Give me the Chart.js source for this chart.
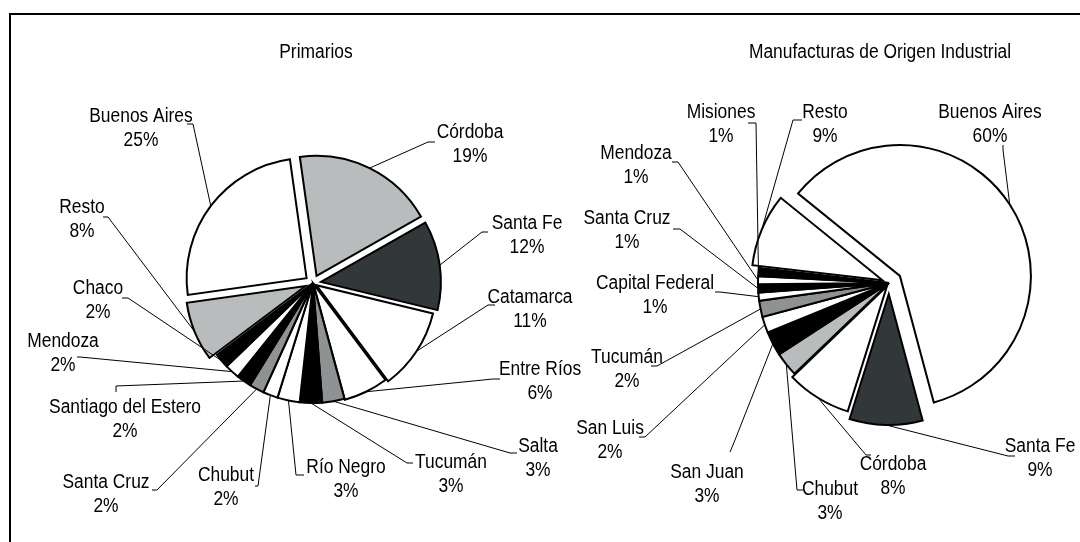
<!DOCTYPE html>
<html lang="es">
<head>
<meta charset="UTF-8">
<title>Exportaciones por provincia</title>
<script src="https://cdn.jsdelivr.net/npm/chart.js@4"></script>
<style>
  html, body { margin: 0; padding: 0; background: #fff; overflow: hidden; }
  body { width: 1080px; height: 542px; position: relative; }
  .frame { position: absolute; left: 9px; top: 13px; width: 1100px; height: 600px; border: 2px solid #000; }
  canvas { position: absolute; top: 0; }
  #primarios { left: 0; }
  #moi { left: 540px; }
</style>
</head>
<body>
<div class="frame"></div>
<canvas id="primarios" width="620" height="542"></canvas>
<canvas id="moi" width="540" height="542"></canvas>
<script>
// Primarios, clockwise from the top
const primariosLabels = ["Córdoba", "Santa Fe", "Catamarca", "Entre Ríos", "Salta", "Tucumán", "Río Negro",
  "Chubut", "Santa Cruz", "Santiago del Estero", "Mendoza", "Chaco", "Resto", "Buenos Aires"];
const primariosValues = [19, 12, 11, 6, 3, 3, 3, 2, 2, 2, 2, 2, 8, 25];

// Manufacturas de Origen Industrial, clockwise from Buenos Aires
const moiLabels = ["Buenos Aires", "Santa Fe", "Córdoba", "Chubut", "San Juan", "San Luis", "Tucumán",
  "Capital Federal", "Santa Cruz", "Mendoza", "Misiones", "Resto"];
const moiValues = [60, 9, 8, 3, 3, 2, 2, 1, 1, 1, 1, 9];

const LIGHT = "#b9bcbd", DARK = "#32373a", MID = "#8e9293", BLK = "#000000", WHT = "#ffffff";
const primariosColors = [LIGHT, DARK, WHT, WHT, MID, BLK, WHT, WHT, MID, BLK, WHT, BLK, LIGHT, WHT];
const moiColors = [WHT, DARK, WHT, LIGHT, BLK, WHT, MID, WHT, BLK, WHT, BLK, WHT];

const primariosExplode = [8, 8, 4, 1, 0, 0, 0, 0, 0, 0, 0, 0, 8, 8];
const moiExplode = [13, 11, 4, 0, 0, 0, 0, 0, 0, 0, 0, 7];

// label layout (page coords): text centre, elbow, anchor
const primariosCallouts = [
  { x: 470, y: 132, ex: 428, ey: 142, ax: 435, ay: 142 },
  { x: 527, y: 223, ex: 482, ey: 232, ax: 488, ay: 232 },
  { x: 530, y: 297, ex: 488, ey: 305, ax: 495, ay: 305 },
  { x: 540, y: 369, ex: 493, ey: 379, ax: 500, ay: 379 },
  { x: 538, y: 446, ex: 510, ey: 453, ax: 517, ay: 453 },
  { x: 451, y: 462, ex: 407, ey: 463, ax: 413, ay: 463 },
  { x: 346, y: 467, ex: 296, ey: 475, ax: 304, ay: 475 },
  { x: 226, y: 475, ex: 258, ey: 486, ax: 255, ay: 486 },
  { x: 106, y: 482, ex: 157, ey: 490, ax: 152, ay: 490 },
  { x: 125, y: 407, ex: 116, ey: 386, ax: 116, ay: 392 },
  { x: 63, y: 341, ex: 80, ey: 357, ax: 77, ay: 357 },
  { x: 98, y: 288, ex: 128, ey: 298, ax: 122, ay: 298 },
  { x: 82, y: 207, ex: 108, ey: 217, ax: 103, ay: 217 },
  { x: 141, y: 116, ex: 193, ey: 124, ax: 187, ay: 124 }
];
const moiCallouts = [
  { x: 990, y: 112, ex: 1003, ey: 150, ax: 1003, ay: 145 },
  { x: 1040, y: 446, ex: 1008, ey: 456, ax: 1015, ay: 456 },
  { x: 893, y: 464, ex: 866, ey: 455, ax: 871, ay: 455 },
  { x: 830, y: 489, ex: 797, ey: 490, ax: 803, ay: 490 },
  { x: 707, y: 472, ex: 735, ey: 440, ax: 730, ay: 452 },
  { x: 610, y: 428, ex: 645, ey: 437, ax: 639, ay: 437 },
  { x: 627, y: 357, ex: 657, ey: 366, ax: 651, ay: 366 },
  { x: 655, y: 283, ex: 720, ey: 292, ax: 715, ay: 292 },
  { x: 627, y: 218, ex: 680, ey: 229, ax: 673, ay: 229 },
  { x: 636, y: 153, ex: 678, ey: 162, ax: 672, ay: 162 },
  { x: 721, y: 112, ex: 756, ey: 123, ax: 748, ay: 123 },
  { x: 825, y: 112, ex: 793, ey: 120, ax: 802, ay: 120 }
];

function drawText(ctx, text, x, y) {
  ctx.save();
  ctx.font = '20px "Liberation Sans", Arial, sans-serif';
  ctx.textAlign = "center";
  ctx.textBaseline = "middle";
  ctx.fillStyle = "#000";
  ctx.scale(0.87, 1);
  ctx.fillText(text, x / 0.87, y);
  ctx.restore();
}

// pulls slices out of the pie without Chart.js resizing them
const explodePlugin = {
  id: "explode",
  beforeDatasetDraw(chart, args, opts) {
    const ctx = chart.ctx;
    args.meta.data.forEach((arc, i) => {
      const mid = (arc.startAngle + arc.endAngle) / 2;
      const e = opts.amounts[i] || 0;
      ctx.save();
      ctx.translate(Math.cos(mid) * e, Math.sin(mid) * e);
      arc.draw(ctx);
      ctx.restore();
    });
    return false;
  }
};

const calloutPlugin = {
  id: "callouts",
  afterDatasetsDraw(chart, args, opts) {
    const ctx = chart.ctx;
    const meta = chart.getDatasetMeta(0);
    const values = chart.data.datasets[0].data;
    const dx = opts.shiftX;
    ctx.save();
    ctx.strokeStyle = "#000";
    ctx.lineWidth = 1;
    meta.data.forEach((arc, i) => {
      const c = opts.callouts[i];
      const mid = (arc.startAngle + arc.endAngle) / 2;
      const r = arc.outerRadius + (opts.explode[i] || 0);
      ctx.beginPath();
      ctx.moveTo(arc.x + Math.cos(mid) * r, arc.y + Math.sin(mid) * r);
      ctx.lineTo(c.ex - dx, c.ey);
      ctx.lineTo(c.ax - dx, c.ay);
      ctx.stroke();
      drawText(ctx, chart.data.labels[i], c.x - dx, c.y);
      drawText(ctx, values[i] + "%", c.x - dx, c.y + 24);
    });
    drawText(ctx, opts.title, opts.titleX - dx, 52);
    ctx.restore();
  }
};

function makePie(id, labels, values, colors, explode, callouts, opts) {
  return new Chart(document.getElementById(id), {
    type: "pie",
    data: {
      labels: labels,
      datasets: [{
        data: values,
        backgroundColor: colors,
        borderColor: "#000",
        borderWidth: 2,
        borderJoinStyle: "miter"
      }]
    },
    options: {
      responsive: false,
      animation: false,
      rotation: opts.rotation,
      radius: opts.radius,
      layout: { padding: opts.padding },
      events: [],
      plugins: {
        legend: { display: false },
        tooltip: { enabled: false },
        explode: { amounts: explode },
        callouts: {
          callouts: callouts,
          explode: explode,
          shiftX: opts.shiftX,
          title: opts.title,
          titleX: opts.titleX
        }
      }
    },
    plugins: [explodePlugin, calloutPlugin]
  });
}

makePie("primarios", primariosLabels, primariosValues, primariosColors, primariosExplode, primariosCallouts, {
  rotation: -8, radius: 120, padding: { left: 6, right: 0, top: 24, bottom: 0 },
  shiftX: 0, title: "Primarios", titleX: 316
});
makePie("moi", moiLabels, moiValues, moiColors, moiExplode, moiCallouts, {
  rotation: -51, radius: 131, padding: { left: 158, right: 0, top: 24, bottom: 0 },
  shiftX: 540, title: "Manufacturas de Origen Industrial", titleX: 880
});
</script>
</body>
</html>
